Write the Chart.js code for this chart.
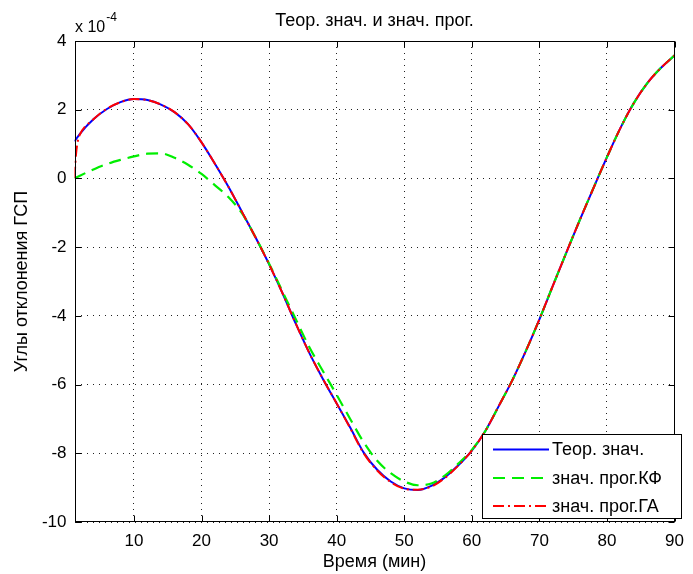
<!DOCTYPE html>
<html>
<head>
<meta charset="utf-8">
<script src="https://cdn.jsdelivr.net/npm/chart.js@4.4.1/dist/chart.umd.min.js"></script>
<style>
html,body{margin:0;padding:0;background:#fff;}
#wrap{width:693px;height:574px;}
</style>
</head>
<body>
<div id="wrap"><canvas id="c" width="693" height="574"></canvas></div>
<script>
const titleText = 'Теор. знач. и знач. прог.';
const xAxisLabel = 'Время (мин)';
const yAxisLabel = 'Углы отклонения ГСП';
const exponentBase = 'x 10';
const exponentPower = '-4';
const seriesNames = ['Теор. знач.', 'знач. прог.КФ', 'знач. прог.ГА'];
const seriesColors = ['#0000ff', '#00ee00', '#ff0000'];

const xTicks = [10, 20, 30, 40, 50, 60, 70, 80, 90];
const yTicks = [-10, -8, -6, -4, -2, 0, 2, 4];

const times = [1.2, 2, 4, 6, 8, 10, 12, 14, 16, 18, 20, 22, 24, 26, 28, 30, 32, 34, 36, 38, 40,
  42, 44, 46, 48, 50, 52, 54, 56, 58, 60, 62, 64, 66, 68, 70, 72, 74, 76, 78, 80, 82, 84, 86, 88, 90];

const theoryValues = [1.08, 1.30, 1.72, 2.02, 2.22, 2.31, 2.28, 2.15, 1.93, 1.58, 1.05, 0.42, -0.25, -0.98, -1.72, -2.50, -3.35, -4.25, -5.10, -5.85, -6.55,
  -7.25, -7.98, -8.48, -8.82, -9.02, -9.07, -8.95, -8.70, -8.35, -7.92, -7.35, -6.62, -5.87, -5.02, -4.10, -3.12, -2.15, -1.20, -0.28, 0.62, 1.47, 2.20, 2.78, 3.22, 3.58];

const kfValues = [0.00, 0.08, 0.26, 0.42, 0.54, 0.64, 0.72, 0.73, 0.60, 0.40, 0.13, -0.20, -0.55, -1.02, -1.72, -2.48, -3.30, -4.12, -4.93, -5.62, -6.30,
  -7.00, -7.68, -8.22, -8.58, -8.82, -8.93, -8.88, -8.65, -8.30, -7.90, -7.35, -6.62, -5.87, -5.02, -4.10, -3.12, -2.15, -1.20, -0.28, 0.62, 1.47, 2.20, 2.78, 3.22, 3.58];

const gaTimes = [1.2, 1.4, 1.7, 2, 4, 6, 8, 10, 12, 14, 16, 18, 20, 22, 24, 26, 28, 30, 32, 34, 36, 38, 40,
  42, 44, 46, 48, 50, 52, 54, 56, 58, 60, 62, 64, 66, 68, 70, 72, 74, 76, 78, 80, 82, 84, 86, 88, 90];
const gaValues = [0.02, 0.65, 1.10, 1.28, 1.72, 2.03, 2.22, 2.31, 2.28, 2.15, 1.93, 1.58, 1.05, 0.42, -0.25, -0.98, -1.72, -2.50, -3.35, -4.25, -5.10, -5.85, -6.55,
  -7.27, -8.00, -8.50, -8.84, -9.03, -9.06, -8.97, -8.72, -8.36, -7.92, -7.35, -6.62, -5.87, -5.02, -4.10, -3.12, -2.15, -1.20, -0.28, 0.62, 1.47, 2.20, 2.78, 3.22, 3.58];

const FONT = 'Liberation Sans, Arial, Helvetica, sans-serif';

function pairs(xs, ys) { return xs.map((x, i) => ({x: x, y: ys[i]})); }

const matlabFrame = {
  id: 'matlabFrame',
  afterDatasetsDraw(chart) {
    const ctx = chart.ctx;
    const a = chart.chartArea;
    const xs = chart.scales.x, ys = chart.scales.y;
    ctx.save();
    ctx.strokeStyle = '#000';
    ctx.lineWidth = 1;
    ctx.setLineDash([]);
    const L = Math.round(a.left) + 0.5, R = Math.round(a.right) - 0.5;
    const T = Math.round(a.top) + 0.5, B = Math.round(a.bottom) - 0.5;
    ctx.strokeRect(L, T, R - L, B - T);
    const tl = 6;
    ctx.beginPath();
    xTicks.forEach(v => {
      const px = Math.round(xs.getPixelForValue(v)) + 0.5;
      ctx.moveTo(px, B); ctx.lineTo(px, B - tl);
      ctx.moveTo(px, T); ctx.lineTo(px, T + tl);
    });
    yTicks.forEach(v => {
      const py = Math.round(ys.getPixelForValue(v)) + 0.5;
      ctx.moveTo(L, py); ctx.lineTo(L + tl, py);
      ctx.moveTo(R, py); ctx.lineTo(R - tl, py);
    });
    ctx.stroke();

    // exponent label
    ctx.fillStyle = '#000';
    ctx.textBaseline = 'alphabetic';
    ctx.textAlign = 'left';
    ctx.font = '16px ' + FONT;
    ctx.fillText(exponentBase, a.left + 0.5, 32);
    const w = ctx.measureText(exponentBase).width;
    ctx.font = '12px ' + FONT;
    ctx.fillText(exponentPower, a.left + 1.5 + w, 21);

    // legend box
    const bx = 482, by = 434, bw = 200, bh = 85;
    ctx.fillStyle = '#fff';
    ctx.fillRect(bx, by, bw, bh);
    ctx.strokeStyle = '#000';
    ctx.lineWidth = 1;
    ctx.strokeRect(bx + 0.5, by + 0.5, bw - 1, bh - 1);
    const rows = [449.5, 478, 506];
    ctx.font = '18px ' + FONT;
    ctx.textBaseline = 'middle';
    chart.data.datasets.forEach((ds, i) => {
      ctx.strokeStyle = ds.borderColor;
      ctx.lineWidth = 2;
      ctx.setLineDash(ds.borderDash || []);
      ctx.beginPath();
      ctx.moveTo(493, rows[i]);
      ctx.lineTo(549, rows[i]);
      ctx.stroke();
      ctx.setLineDash([]);
      ctx.fillStyle = '#000';
      ctx.fillText(ds.label, 552, rows[i] + 1);
    });
    ctx.restore();
  }
};

new Chart(document.getElementById('c'), {
  type: 'line',
  data: {
    datasets: [
      {label: seriesNames[0], data: pairs(times, theoryValues), borderColor: seriesColors[0], borderWidth: 2, order: 3},
      {label: seriesNames[1], data: pairs(times, kfValues), borderColor: seriesColors[1], borderWidth: 2.2, borderDash: [12, 7], order: 2},
      {label: seriesNames[2], data: pairs(gaTimes, gaValues), borderColor: seriesColors[2], borderWidth: 2, borderDash: [11, 4, 2, 4], order: 1}
    ]
  },
  options: {
    responsive: false,
    animation: false,
    devicePixelRatio: 1,
    layout: {padding: {left: 0, right: 9, top: 0, bottom: 0}},
    elements: {
      point: {radius: 0},
      line: {cubicInterpolationMode: 'monotone', fill: false}
    },
    plugins: {
      legend: {display: false},
      tooltip: {enabled: false},
      title: {
        display: true, text: titleText, color: '#000', fullSize: false,
        font: {family: FONT, size: 18, weight: 'normal', lineHeight: 1.2},
        padding: {top: 10, bottom: 9.4}
      }
    },
    scales: {
      x: {
        type: 'linear', min: 1.2, max: 90,
        afterBuildTicks: s => { s.ticks = xTicks.map(v => ({value: v})); },
        afterFit: s => { s.height = 52; },
        grid: {color: '#222', lineWidth: 1, drawTicks: false},
        border: {display: false, dash: [1, 5]},
        ticks: {color: '#000', font: {family: FONT, size: 17}, padding: 9, maxRotation: 0, autoSkip: false},
        title: {display: true, text: xAxisLabel, color: '#000', font: {family: FONT, size: 18, lineHeight: 1.2}, padding: {top: 0, bottom: 1.2}}
      },
      y: {
        min: -10, max: 4,
        afterBuildTicks: s => { s.ticks = yTicks.map(v => ({value: v})); },
        afterFit: s => { s.width = 74.5; },
        grid: {color: '#222', lineWidth: 1, drawTicks: false},
        border: {display: false, dash: [1, 5]},
        ticks: {color: '#000', font: {family: FONT, size: 17}, padding: 8, autoSkip: false},
        title: {display: true, text: yAxisLabel, color: '#000', font: {family: FONT, size: 18, lineHeight: 1.2}, padding: {top: 11.7, bottom: 0}}
      }
    }
  },
  plugins: [matlabFrame]
});
</script>
</body>
</html>
